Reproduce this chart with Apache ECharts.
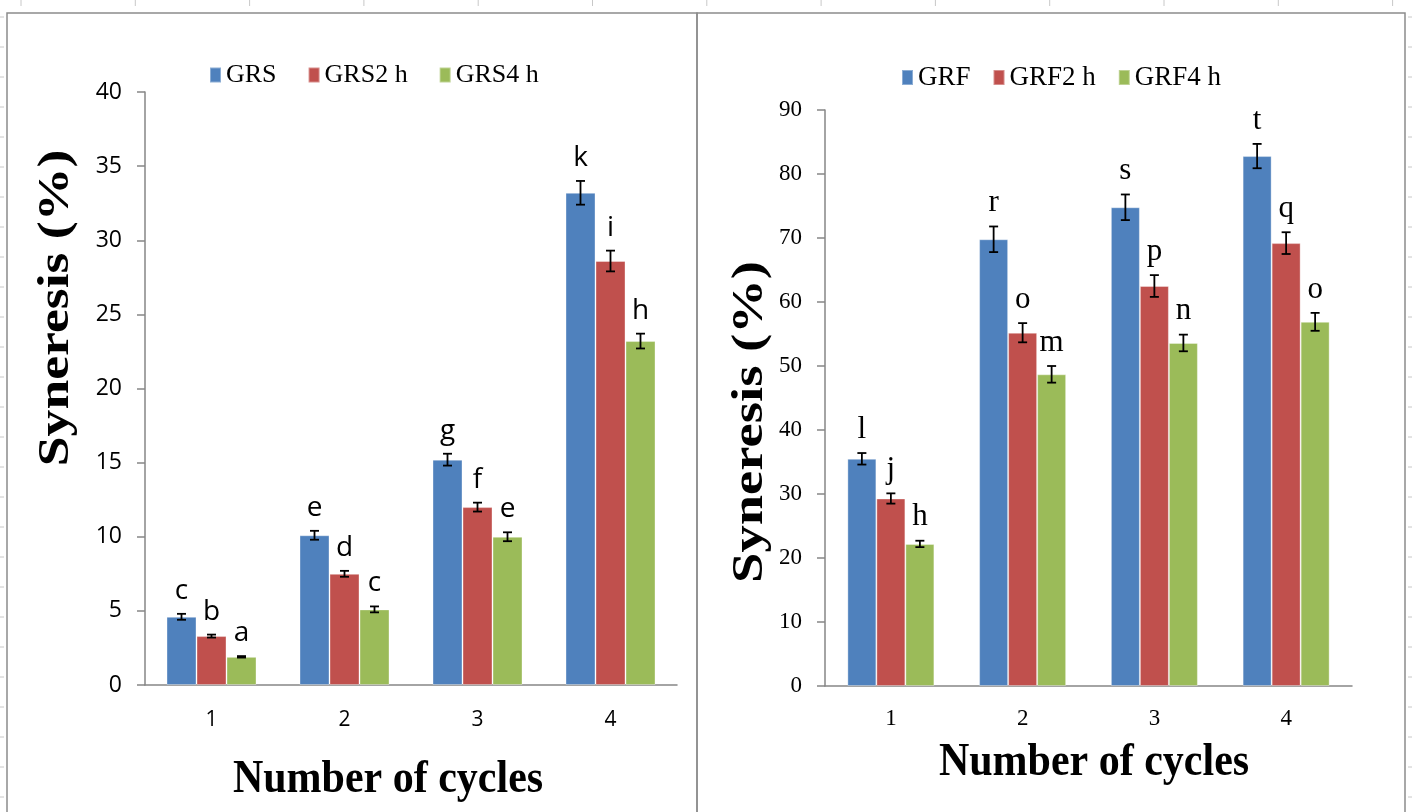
<!DOCTYPE html>
<html>
<head>
<meta charset="utf-8">
<script src="https://cdn.jsdelivr.net/npm/echarts@6/dist/echarts.min.js"></script>
<style>
  html, body { margin: 0; padding: 0; background: #fff; }
  #chart { width: 1412px; height: 812px; }
</style>
</head>
<body>
<div id="chart"></div>
<script>
var cycles = ['1', '2', '3', '4'];

// left panel
var grs    = [4.6, 10.1, 15.2, 33.2];
var grs2h  = [3.3, 7.5, 12.0, 28.6];
var grs4h  = [1.9, 5.1, 10.0, 23.2];
var grsErr   = [0.2, 0.3, 0.4, 0.8];
var grs2hErr = [0.1, 0.2, 0.3, 0.7];
var grs4hErr = [0.05, 0.2, 0.3, 0.5];
var grsLet   = ['c', 'e', 'g', 'k'];
var grs2hLet = ['b', 'd', 'f', 'i'];
var grs4hLet = ['a', 'c', 'e', 'h'];

// right panel
var grf    = [35.5, 69.8, 74.8, 82.8];
var grf2h  = [29.3, 55.2, 62.5, 69.2];
var grf4h  = [22.2, 48.7, 53.6, 56.9];
var grfErr   = [0.9, 2.0, 2.0, 1.9];
var grf2hErr = [0.8, 1.5, 1.7, 1.7];
var grf4hErr = [0.5, 1.3, 1.3, 1.4];
var grfLet   = ['l', 'r', 's', 't'];
var grf2hLet = ['j', 'o', 'p', 'q'];
var grf4hLet = ['h', 'm', 'n', 'o'];

var colors = ['#4F81BD', '#C0504D', '#9BBB59'];
var serif = '"Liberation Serif", "DejaVu Serif", serif';
var sans = '"Open Sans", "Liberation Sans", sans-serif';

function errSeries(gi, idx, vals, errs, lets, bw, font, gap) {
  var d = vals.map(function (v, i) { return [i, v, errs[i], lets[i]]; });
  return {
    type: 'custom',
    xAxisIndex: gi, yAxisIndex: gi,
    z: 10,
    data: d,
    renderItem: function (params, api) {
      var c = api.value(0);
      var v = api.value(1);
      var e = api.value(2);
      var top = api.coord([c, v + e]);
      var bot = api.coord([c, v - e]);
      var x = top[0] + (idx - 1) * bw;
      var cap = 4.5;
      var st = { stroke: '#000', lineWidth: 1.8 };
      return {
        type: 'group',
        children: [
          { type: 'line', shape: { x1: x, y1: top[1], x2: x, y2: bot[1] }, style: st },
          { type: 'line', shape: { x1: x - cap, y1: top[1], x2: x + cap, y2: top[1] }, style: st },
          { type: 'line', shape: { x1: x - cap, y1: bot[1], x2: x + cap, y2: bot[1] }, style: st },
          { type: 'text', x: x, y: top[1] - gap, style: { text: d[params.dataIndex][3], font: font, fill: '#000', textAlign: 'center', textVerticalAlign: 'bottom' } }
        ]
      };
    }
  };
}

function barSeries(gi, name, vals, color, bw) {
  return {
    name: name, type: 'bar',
    xAxisIndex: gi, yAxisIndex: gi,
    barWidth: bw, barGap: '0%',
    data: vals,
    itemStyle: { color: color, borderColor: 'rgba(255,255,255,0.35)', borderWidth: 1 }
  };
}

// faint page ruler marks around the frame
var ruler = [];
for (var rx = 21; rx < 1412; rx += 114.3) {
  ruler.push({ type: 'line', shape: { x1: rx, y1: 0, x2: rx, y2: 6 }, style: { stroke: '#c8c8c8', lineWidth: 1 }, silent: true });
}
for (var ry = 17; ry < 812; ry += 30) {
  ruler.push({ type: 'line', shape: { x1: 0, y1: ry, x2: 4, y2: ry }, style: { stroke: '#c8c8c8', lineWidth: 1 }, silent: true });
  ruler.push({ type: 'line', shape: { x1: 1408, y1: ry, x2: 1412, y2: ry }, style: { stroke: '#c8c8c8', lineWidth: 1 }, silent: true });
}

var chart = echarts.init(document.getElementById('chart'));

var option = {
  animation: false,
  backgroundColor: '#fff',
  legend: [
    {
      data: ['GRS', 'GRS2 h', 'GRS4 h'],
      left: 204, top: 57,
      itemWidth: 11, itemHeight: 15, itemGap: 31,
      icon: 'rect',
      textStyle: { fontFamily: serif, fontSize: 26, color: '#000' }
    },
    {
      data: ['GRF', 'GRF2 h', 'GRF4 h'],
      left: 896, top: 59,
      itemWidth: 11, itemHeight: 15, itemGap: 22,
      icon: 'rect',
      textStyle: { fontFamily: serif, fontSize: 27, color: '#000' }
    }
  ],
  grid: [
    { left: 145, top: 92, width: 532, height: 593 },
    { left: 825, top: 110, width: 527, height: 576 }
  ],
  xAxis: [
    {
      gridIndex: 0, type: 'category', data: cycles,
      axisLine: { lineStyle: { color: '#868686', width: 1.5 } },
      axisTick: { length: 7, lineStyle: { color: '#868686', width: 1.5 } },
      axisLabel: { margin: 25, fontFamily: sans, fontSize: 21, color: '#000' }
    },
    {
      gridIndex: 1, type: 'category', data: cycles,
      axisLine: { lineStyle: { color: '#868686', width: 1.5 } },
      axisTick: { length: 7, lineStyle: { color: '#868686', width: 1.5 } },
      axisLabel: { margin: 21, fontFamily: serif, fontSize: 23, color: '#000' }
    }
  ],
  yAxis: [
    {
      gridIndex: 0, type: 'value', min: 0, max: 40, interval: 5,
      axisLine: { show: true, lineStyle: { color: '#868686', width: 1.5 } },
      axisTick: { show: true, length: 8, lineStyle: { color: '#868686', width: 1.5 } },
      splitLine: { show: false },
      axisLabel: { margin: 23, fontFamily: sans, fontSize: 23, color: '#000' }
    },
    {
      gridIndex: 1, type: 'value', min: 0, max: 90, interval: 10,
      axisLine: { show: true, lineStyle: { color: '#868686', width: 1.5 } },
      axisTick: { show: true, length: 8, lineStyle: { color: '#868686', width: 1.5 } },
      splitLine: { show: false },
      axisLabel: { margin: 23, fontFamily: serif, fontSize: 23, color: '#000' }
    }
  ],
  graphic: ruler.concat([
    { type: 'rect', shape: { x: 7, y: 13, width: 690, height: 820 }, style: { fill: 'none', stroke: '#8c8c8c', lineWidth: 1.5 }, z: -1 },
    { type: 'rect', shape: { x: 697, y: 13, width: 708, height: 820 }, style: { fill: 'none', stroke: '#8c8c8c', lineWidth: 1.5 }, z: -1 },
    { type: 'text', x: 388, y: 780, scaleY: 1.08, style: { text: 'Number of cycles', font: 'bold 42px ' + serif, fill: '#000', textAlign: 'center', textVerticalAlign: 'middle' } },
    { type: 'text', x: 1094, y: 763, scaleY: 1.08, style: { text: 'Number of cycles', font: 'bold 42px ' + serif, fill: '#000', textAlign: 'center', textVerticalAlign: 'middle' } },
    { type: 'text', x: 57, y: 308, rotation: Math.PI / 2, scaleX: 1.22, style: { text: 'Syneresis (%)', font: 'bold 44px ' + serif, fill: '#000', textAlign: 'center', textVerticalAlign: 'middle' } },
    { type: 'text', x: 751, y: 422, rotation: Math.PI / 2, scaleX: 1.24, style: { text: 'Syneresis (%)', font: 'bold 44px ' + serif, fill: '#000', textAlign: 'center', textVerticalAlign: 'middle' } }
  ]),
  series: [
    barSeries(0, 'GRS', grs, colors[0], 30),
    barSeries(0, 'GRS2 h', grs2h, colors[1], 30),
    barSeries(0, 'GRS4 h', grs4h, colors[2], 30),
    errSeries(0, 0, grs, grsErr, grsLet, 30, '28px ' + sans, 9),
    errSeries(0, 1, grs2h, grs2hErr, grs2hLet, 30, '28px ' + sans, 9),
    errSeries(0, 2, grs4h, grs4hErr, grs4hLet, 30, '28px ' + sans, 9),
    barSeries(1, 'GRF', grf, colors[0], 29),
    barSeries(1, 'GRF2 h', grf2h, colors[1], 29),
    barSeries(1, 'GRF4 h', grf4h, colors[2], 29),
    errSeries(1, 0, grf, grfErr, grfLet, 29, '31px ' + serif, 8),
    errSeries(1, 1, grf2h, grf2hErr, grf2hLet, 29, '31px ' + serif, 8),
    errSeries(1, 2, grf4h, grf4hErr, grf4hLet, 29, '31px ' + serif, 8)
  ]
};

chart.setOption(option);
</script>
</body>
</html>
